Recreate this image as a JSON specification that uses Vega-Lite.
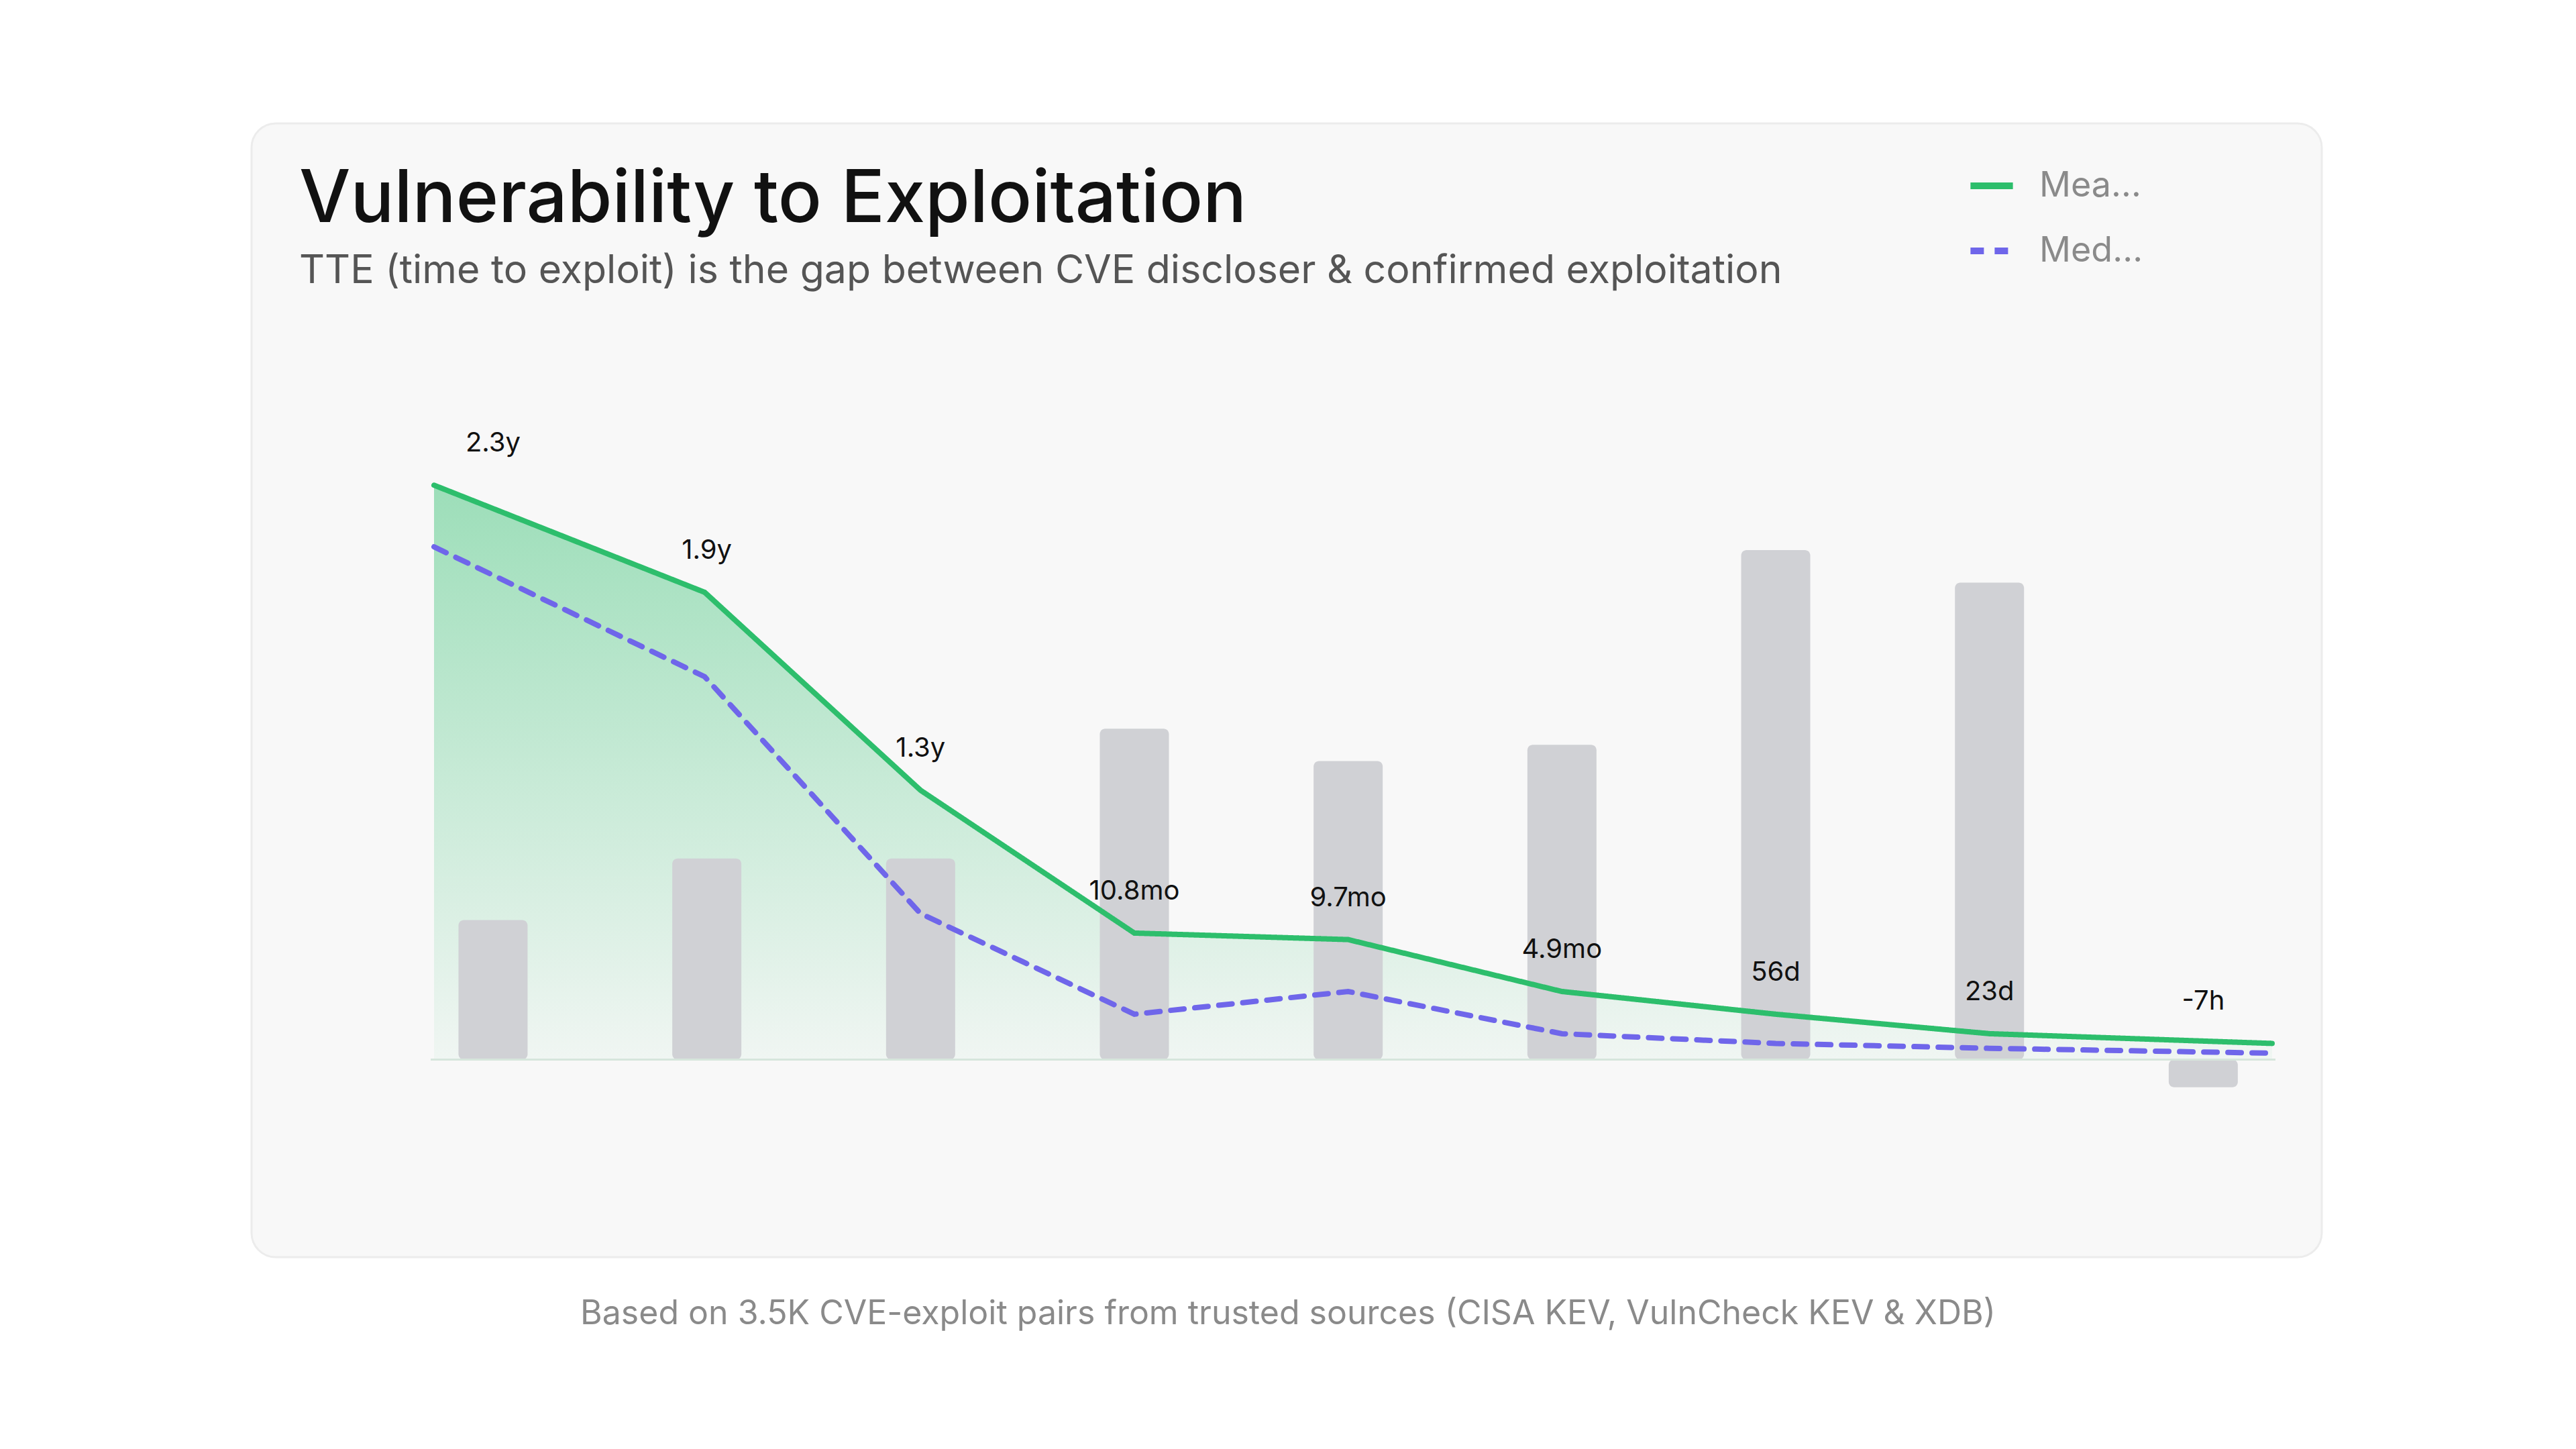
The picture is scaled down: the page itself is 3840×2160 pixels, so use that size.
{
  "$schema": "https://vega.github.io/schema/vega-lite/v6.json",
  "autosize": "none",
  "width": 2750,
  "height": 1016,
  "padding": {"left": 642, "top": 612, "right": 448, "bottom": 532},
  "background": "#ffffff",
  "config": {"view": {"stroke": null}, "font": "Inter"},
  "datasets": {
    "tte": [
      {"year": 2018, "lx": 2017.724, "mean": 1.77, "median": 1.58, "bar": 0.43, "label": "2.3y"},
      {"year": 2019, "lx": 2018.99, "mean": 1.44, "median": 1.18, "bar": 0.62, "label": "1.9y"},
      {"year": 2020, "lx": 2020, "mean": 0.83, "median": 0.45, "bar": 0.62, "label": "1.3y"},
      {"year": 2021, "lx": 2021, "mean": 0.39, "median": 0.14, "bar": 1.02, "label": "10.8mo"},
      {"year": 2022, "lx": 2022, "mean": 0.37, "median": 0.21, "bar": 0.92, "label": "9.7mo"},
      {"year": 2023, "lx": 2023, "mean": 0.21, "median": 0.08, "bar": 0.97, "label": "4.9mo"},
      {"year": 2024, "lx": 2024, "mean": 0.14, "median": 0.05, "bar": 1.57, "label": "56d"},
      {"year": 2025, "lx": 2025, "mean": 0.08, "median": 0.035, "bar": 1.47, "label": "23d"},
      {"year": 2026, "lx": 2026.322, "mean": 0.05, "median": 0.02, "bar": -0.085, "label": "-7h"}
    ],
    "series": [
      {"lx": 2017.724, "v": 1.77, "s": "Mean TTE"},
      {"lx": 2018.99, "v": 1.44, "s": "Mean TTE"},
      {"lx": 2020, "v": 0.83, "s": "Mean TTE"},
      {"lx": 2021, "v": 0.39, "s": "Mean TTE"},
      {"lx": 2022, "v": 0.37, "s": "Mean TTE"},
      {"lx": 2023, "v": 0.21, "s": "Mean TTE"},
      {"lx": 2024, "v": 0.14, "s": "Mean TTE"},
      {"lx": 2025, "v": 0.08, "s": "Mean TTE"},
      {"lx": 2026.322, "v": 0.05, "s": "Mean TTE"},
      {"lx": 2017.724, "v": 1.58, "s": "Median TTE"},
      {"lx": 2018.99, "v": 1.18, "s": "Median TTE"},
      {"lx": 2020, "v": 0.45, "s": "Median TTE"},
      {"lx": 2021, "v": 0.14, "s": "Median TTE"},
      {"lx": 2022, "v": 0.21, "s": "Median TTE"},
      {"lx": 2023, "v": 0.08, "s": "Median TTE"},
      {"lx": 2024, "v": 0.05, "s": "Median TTE"},
      {"lx": 2025, "v": 0.035, "s": "Median TTE"},
      {"lx": 2026.322, "v": 0.02, "s": "Median TTE"}
    ]
  },
  "layer": [
    {
      "data": {"values": [{}]},
      "mark": {"type": "rect", "fill": "#f8f8f8", "stroke": "#ececec", "strokeWidth": 3, "cornerRadius": 36},
      "encoding": {"x": {"value": -267}, "x2": {"value": 2819}, "y": {"value": -428}, "y2": {"value": 1262}}
    },
    {
      "data": {"values": [{}]},
      "mark": {"type": "text", "text": "Vulnerability to Exploitation", "fontSize": 108, "fontWeight": 500, "color": "#111111", "align": "left", "baseline": "alphabetic"},
      "encoding": {"x": {"value": -196}, "y": {"value": -281}}
    },
    {
      "data": {"values": [{}]},
      "mark": {"type": "text", "text": "TTE (time to exploit) is the gap between CVE discloser & confirmed exploitation", "fontSize": 59, "color": "#555555", "align": "left", "baseline": "alphabetic"},
      "encoding": {"x": {"value": -196}, "y": {"value": -190}}
    },
    {
      "data": {"values": [{}]},
      "mark": {"type": "text", "text": "Based on 3.5K CVE-exploit pairs from trusted sources (CISA KEV, VulnCheck KEV & XDB)", "fontSize": 50, "color": "#8a8a8a", "align": "center", "baseline": "middle"},
      "encoding": {"x": {"value": 1278}, "y": {"value": 1347}}
    },
    {
      "data": {"name": "tte"},
      "mark": {"type": "area", "line": false, "fill": {"gradient": "linear", "x1": 0, "y1": 0, "x2": 0, "y2": 1, "stops": [{"offset": 0, "color": "rgba(45,190,108,0.45)"}, {"offset": 1, "color": "rgba(45,190,108,0.04)"}]}},
      "encoding": {
        "x": {"field": "lx", "type": "quantitative", "scale": {"domain": [2017.724, 2026.322], "nice": false, "zero": false},
          "axis": {"values": [2018, 2019, 2020, 2021, 2022, 2023, 2024, 2025, 2026], "labelExpr": "'' + datum.value", "title": null, "grid": false, "domain": false, "ticks": false, "labelFontSize": 54, "labelColor": "#222222", "labelPadding": 72, "labelFont": "Inter"}},
        "y": {"field": "mean", "type": "quantitative", "scale": {"domain": [-0.1, 2], "nice": false, "zero": false},
          "axis": {"values": [0, 0.5, 1, 1.5, 2], "labelExpr": "datum.value == 0 ? '0' : datum.value == 0.5 ? '1' : datum.value == 1 ? '1.5' : datum.value == 1.5 ? '2' : '2.5'", "title": null, "domain": false, "ticks": false, "labelFontSize": 54, "labelColor": "#777777", "labelPadding": 70, "gridColor": "#e2e2e2", "gridDash": [12, 12], "gridWidth": 3, "labelFont": "Inter"}},
        "y2": {"datum": 0}
      }
    },
    {
      "data": {"name": "tte"},
      "mark": {"type": "bar", "color": "#d0d1d5", "width": 103, "cornerRadius": 8},
      "encoding": {
        "x": {"field": "year", "type": "quantitative"},
        "y": {"field": "bar", "type": "quantitative"},
        "y2": {"datum": 0}
      }
    },
    {
      "data": {"values": [{}]},
      "mark": {"type": "rule", "color": "#d6e6dc", "strokeWidth": 3},
      "encoding": {"y": {"datum": 0}}
    },
    {
      "data": {"name": "series"},
      "mark": {"type": "line", "strokeWidth": 8, "strokeCap": "round"},
      "encoding": {
        "x": {"field": "lx", "type": "quantitative"},
        "y": {"field": "v", "type": "quantitative"},
        "color": {"field": "s", "type": "nominal", "scale": {"domain": ["Mean TTE", "Median TTE"], "range": ["#2dbe6c", "#6f66ea"]},
          "legend": {"title": null, "orient": "none", "legendX": 2290, "legendY": -372, "symbolType": "stroke", "symbolSize": 4000, "symbolStrokeWidth": 10, "labelFontSize": 52, "labelColor": "#8a8a8a", "rowPadding": 34, "labelOffset": 34, "labelFont": "Inter"}},
        "strokeDash": {"field": "s", "type": "nominal", "scale": {"domain": ["Mean TTE", "Median TTE"], "range": [[1, 0], [20, 16]]}, "legend": null}
      }
    },
    {
      "data": {"name": "tte"},
      "mark": {"type": "text", "fontSize": 40, "color": "#111111", "baseline": "middle", "dy": -62},
      "encoding": {
        "x": {"field": "year", "type": "quantitative"},
        "y": {"field": "mean", "type": "quantitative"},
        "text": {"field": "label"}
      }
    }
  ]
}
